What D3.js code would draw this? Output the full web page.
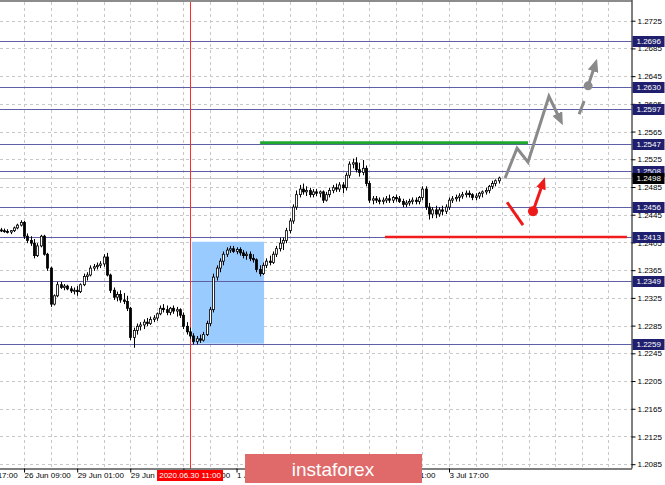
<!DOCTYPE html>
<html><head><meta charset="utf-8">
<script src="https://cdnjs.cloudflare.com/ajax/libs/d3/7.8.5/d3.min.js"></script>
<style>body{margin:0;background:#fff}svg{display:block}text{font-family:"Liberation Sans",Arial,sans-serif}</style>
</head><body><svg id="c" width="665" height="485"></svg>
<script>
// ---- DATA (EURUSD-like H1 candles, bar index 0..150) ----
const open=[1.2423,1.2422,1.2421,1.2420,1.2422,1.2426,1.2430,1.2434,1.2414,1.2408,1.2404,1.2386,1.2400,1.2414,1.2388,1.2368,1.2316,1.2328,1.2344,1.2340,1.2342,1.2338,1.2335,1.2336,1.2334,1.2344,1.2356,1.2358,1.2368,1.2370,1.2372,1.2374,1.2384,1.2358,1.2336,1.2326,1.2330,1.2322,1.2320,1.2310,1.2268,1.2278,1.2284,1.2286,1.2290,1.2288,1.2294,1.2296,1.2302,1.2310,1.2308,1.2304,1.2310,1.2306,1.2308,1.2300,1.2284,1.2276,1.2270,1.2262,1.2266,1.2264,1.2272,1.2288,1.2308,1.2355,1.2368,1.2378,1.2388,1.2394,1.2396,1.2392,1.2395,1.2390,1.2386,1.2388,1.2382,1.2380,1.2366,1.2360,1.2372,1.2378,1.2376,1.2388,1.2396,1.2404,1.2408,1.2422,1.2436,1.2456,1.2474,1.2482,1.2478,1.2480,1.2474,1.2478,1.2476,1.2478,1.2466,1.2474,1.2480,1.2484,1.2482,1.2488,1.2484,1.2502,1.2518,1.2520,1.2510,1.2506,1.2512,1.2490,1.2466,1.2468,1.2466,1.2464,1.2466,1.2468,1.2466,1.2470,1.2468,1.2464,1.2460,1.2462,1.2464,1.2466,1.2464,1.2470,1.2482,1.2456,1.2446,1.2452,1.2446,1.2452,1.2450,1.2456,1.2466,1.2468,1.2470,1.2472,1.2474,1.2476,1.2474,1.2470,1.2472,1.2476,1.2478,1.2480,1.2486,1.2490,1.2494];
const high=[1.2426,1.2425,1.2424,1.2423,1.2428,1.2432,1.2437,1.2436,1.2418,1.2414,1.2410,1.2404,1.2416,1.2416,1.2390,1.2370,1.2330,1.2348,1.2348,1.2345,1.2344,1.2342,1.2340,1.2342,1.2346,1.2360,1.2362,1.2372,1.2374,1.2376,1.2378,1.2388,1.2390,1.2360,1.2340,1.2334,1.2336,1.2332,1.2328,1.2312,1.2282,1.2288,1.2290,1.2294,1.2296,1.2298,1.2300,1.2304,1.2314,1.2316,1.2314,1.2312,1.2314,1.2312,1.2310,1.2304,1.2290,1.2282,1.2274,1.2270,1.2272,1.2276,1.2292,1.2312,1.2360,1.2372,1.2382,1.2392,1.2398,1.2400,1.2400,1.2398,1.2398,1.2394,1.2392,1.2392,1.2388,1.2382,1.2372,1.2376,1.2382,1.2386,1.2392,1.2400,1.2412,1.2412,1.2426,1.2440,1.2460,1.2480,1.2488,1.2490,1.2486,1.2484,1.2482,1.2482,1.2480,1.2480,1.2478,1.2484,1.2488,1.2490,1.2492,1.2492,1.2506,1.2522,1.2526,1.2528,1.2520,1.2524,1.2516,1.2494,1.2472,1.2472,1.2470,1.2470,1.2472,1.2474,1.2472,1.2474,1.2472,1.2468,1.2466,1.2468,1.2470,1.2470,1.2472,1.2486,1.2486,1.2462,1.2456,1.2458,1.2456,1.2458,1.2460,1.2470,1.2472,1.2474,1.2476,1.2478,1.2480,1.2480,1.2476,1.2476,1.2478,1.2480,1.2484,1.2488,1.2494,1.2496,1.2500];
const low=[1.2420,1.2419,1.2418,1.2417,1.2420,1.2424,1.2428,1.2410,1.2404,1.2400,1.2382,1.2384,1.2398,1.2386,1.2364,1.2312,1.2314,1.2326,1.2338,1.2336,1.2336,1.2332,1.2330,1.2328,1.2332,1.2342,1.2350,1.2356,1.2364,1.2366,1.2368,1.2370,1.2356,1.2332,1.2322,1.2320,1.2318,1.2316,1.2306,1.2264,1.2253,1.2272,1.2278,1.2280,1.2284,1.2286,1.2290,1.2292,1.2300,1.2304,1.2300,1.2300,1.2302,1.2298,1.2296,1.2280,1.2272,1.2266,1.2258,1.2258,1.2260,1.2262,1.2270,1.2284,1.2304,1.2350,1.2362,1.2372,1.2384,1.2390,1.2390,1.2388,1.2386,1.2382,1.2380,1.2378,1.2376,1.2362,1.2356,1.2358,1.2368,1.2372,1.2374,1.2384,1.2392,1.2394,1.2404,1.2418,1.2432,1.2452,1.2470,1.2474,1.2472,1.2470,1.2470,1.2472,1.2470,1.2462,1.2464,1.2470,1.2476,1.2478,1.2478,1.2476,1.2480,1.2498,1.2512,1.2506,1.2500,1.2502,1.2486,1.2462,1.2460,1.2462,1.2460,1.2460,1.2462,1.2462,1.2462,1.2464,1.2462,1.2456,1.2456,1.2458,1.2460,1.2460,1.2460,1.2466,1.2452,1.2438,1.2440,1.2440,1.2442,1.2444,1.2446,1.2452,1.2462,1.2464,1.2464,1.2468,1.2470,1.2470,1.2466,1.2466,1.2468,1.2470,1.2474,1.2476,1.2482,1.2486,1.2490];
const close=[1.2422,1.2421,1.2420,1.2422,1.2426,1.2430,1.2434,1.2414,1.2408,1.2404,1.2386,1.2400,1.2414,1.2388,1.2368,1.2316,1.2328,1.2344,1.2340,1.2342,1.2338,1.2335,1.2336,1.2334,1.2344,1.2356,1.2358,1.2368,1.2370,1.2372,1.2374,1.2384,1.2358,1.2336,1.2326,1.2330,1.2322,1.2320,1.2310,1.2268,1.2278,1.2284,1.2286,1.2290,1.2288,1.2294,1.2296,1.2302,1.2310,1.2308,1.2304,1.2310,1.2306,1.2308,1.2300,1.2284,1.2276,1.2270,1.2262,1.2266,1.2264,1.2272,1.2288,1.2308,1.2355,1.2368,1.2378,1.2388,1.2394,1.2396,1.2392,1.2395,1.2390,1.2386,1.2388,1.2382,1.2380,1.2366,1.2360,1.2372,1.2378,1.2376,1.2388,1.2396,1.2404,1.2408,1.2422,1.2436,1.2456,1.2474,1.2482,1.2478,1.2480,1.2474,1.2478,1.2476,1.2478,1.2466,1.2474,1.2480,1.2484,1.2482,1.2488,1.2484,1.2502,1.2518,1.2520,1.2510,1.2506,1.2512,1.2490,1.2466,1.2468,1.2466,1.2464,1.2466,1.2468,1.2466,1.2470,1.2468,1.2464,1.2460,1.2462,1.2464,1.2466,1.2464,1.2470,1.2482,1.2456,1.2446,1.2452,1.2446,1.2452,1.2450,1.2456,1.2466,1.2468,1.2470,1.2472,1.2474,1.2476,1.2474,1.2470,1.2472,1.2476,1.2478,1.2480,1.2486,1.2490,1.2494,1.2498];

const priceTicks=[1.2725,1.2685,1.2645,1.2605,1.2565,1.2525,1.2485,1.2445,1.2405,1.2365,1.2325,1.2285,1.2245,1.2205,1.2165,1.2125,1.2085];
const levels=[1.2696,1.2630,1.2597,1.2547,1.2508,1.2456,1.2413,1.2349,1.2259];
const bidPrice=1.2498;
const timeTickBars=[-9,7,23,39,55,71,87,103,119,135];
const timeTickLabels=["25 Jun 17:00","26 Jun 09:00","29 Jun 01:00","29 Jun 17:00","30 Jun 09:00","1 Jul 01:00","1 Jul 17:00","2 Jul 09:00","3 Jul 01:00","3 Jul 17:00"];
const gridBars=[7,15,23,31,39,47,55,63,71,79,87,95,103,111,119,127,135,143,151,159,167,175,183];
const markerBar=57, markerLabel="2020.06.30 11:00";
const zoneBars=[57.6,79.3], zonePrices=[1.2406,1.2259];
const greenBars=[78.1,158.8], greenPrice=1.2549;
const redBars=[115.7,188.6], redPrice=1.2413;
const grayPath=[[151.9,1.2498],[155.5,1.2541],[158.8,1.2521],[165.1,1.2616],[169.3,1.2574]];
const grayDash=[[174.2,1.2590],[175.7,1.2609]];
const grayArrow=[[176.9,1.2631],[179.6,1.2670]];
const redStroke=[[152.5,1.2463],[157.3,1.2430]];
const redArrow=[[160.3,1.2450],[163.9,1.2499]];

// ---- SCALES ----
const svg=d3.select("#c");
const R=631.5, B=468.5;
const x=d3.scaleLinear().domain([0,190]).range([0.8,631.6]);
const y=d3.scaleLinear().domain([1.2725,1.2085]).range([20.7,464.2]);

// grid
const g=svg.append("g");
g.selectAll(".hg").data(priceTicks).join("line")
 .attr("x1",0).attr("x2",R).attr("y1",d=>Math.round(y(d))+0.5).attr("y2",d=>Math.round(y(d))+0.5)
 .attr("stroke","#c8c8c8").attr("stroke-dasharray","3,3");
g.selectAll(".vg").data(gridBars).join("line")
 .attr("y1",2).attr("y2",B).attr("x1",d=>Math.round(x(d))+0.5).attr("x2",d=>Math.round(x(d))+0.5)
 .attr("stroke","#c8c8c8").attr("stroke-dasharray","3,3");

// zone rectangle
svg.append("rect").attr("x",x(zoneBars[0])).attr("width",x(zoneBars[1])-x(zoneBars[0]))
 .attr("y",y(zonePrices[0])).attr("height",y(zonePrices[1])-y(zonePrices[0])).attr("fill","#99cbff");

// level lines
svg.selectAll(".lv").data(levels).join("line")
 .attr("x1",0).attr("x2",R).attr("y1",d=>Math.round(y(d))+0.5).attr("y2",d=>Math.round(y(d))+0.5)
 .attr("stroke","#5f5fa8").attr("stroke-width",1.2);
svg.append("line").attr("x1",0).attr("x2",R).attr("y1",Math.round(y(bidPrice))+0.5).attr("y2",Math.round(y(bidPrice))+0.5)
 .attr("stroke","#c4c4c4");

// vertical marker
svg.append("line").attr("x1",Math.round(x(markerBar))+0.5).attr("x2",Math.round(x(markerBar))+0.5).attr("y1",2).attr("y2",B)
 .attr("stroke","#ff2a2a");

// green & red horizontal
svg.append("line").attr("x1",x(greenBars[0])).attr("x2",x(greenBars[1])).attr("y1",y(greenPrice)).attr("y2",y(greenPrice))
 .attr("stroke","#1fa82e").attr("stroke-width",3);
svg.append("line").attr("x1",x(redBars[0])).attr("x2",x(redBars[1])).attr("y1",y(redPrice)).attr("y2",y(redPrice))
 .attr("stroke","#f01c1c").attr("stroke-width",2.5);

// candles
const idx=d3.range(close.length);
const cg=svg.append("g");
cg.selectAll(".wk").data(idx).join("line")
 .attr("x1",i=>Math.round(x(i))+0.5).attr("x2",i=>Math.round(x(i))+0.5)
 .attr("y1",i=>y(high[i])).attr("y2",i=>y(low[i])).attr("stroke","#000");
cg.selectAll(".bd").data(idx).join("rect")
 .attr("x",i=>Math.round(x(i))-0.5).attr("width",2)
 .attr("y",i=>y(Math.max(open[i],close[i])))
 .attr("height",i=>Math.max(1,Math.abs(y(open[i])-y(close[i]))))
 .attr("fill",i=>close[i]>=open[i]?"#fff":"#000").attr("stroke","#000").attr("stroke-width",0.8);

// projections
const defs=svg.append("defs");
function mk(id,col,w,h){defs.append("marker").attr("id",id).attr("viewBox",`0 0 ${w} ${h}`)
 .attr("refX",w-5).attr("refY",h/2).attr("markerWidth",w).attr("markerHeight",h)
 .attr("markerUnits","userSpaceOnUse").attr("orient","auto")
 .append("path").attr("d",`M0,0L${w},${h/2}L0,${h}Z`).attr("fill",col);}
mk("ag","#8a8a8a",13,11); mk("ar","#ee1a1a",12,10);
function px(pts){
 const p=pts.map(d=>[x(d[0]),y(d[1])]);
 const a=p[p.length-2], b=p[p.length-1];
 const dx=b[0]-a[0], dy=b[1]-a[1], L=Math.hypot(dx,dy);
 p[p.length-1]=[b[0]-dx/L*5,b[1]-dy/L*5];
 return p;}
const ln=d3.line();
svg.append("path").attr("d",ln(px(grayPath))).attr("fill","none").attr("stroke","#8a8a8a").attr("stroke-width",3)
 .attr("stroke-linejoin","miter").attr("marker-end","url(#ag)");
svg.append("path").attr("d",ln(grayDash.map(d=>[x(d[0]),y(d[1])]))).attr("stroke","#8a8a8a").attr("stroke-width",3);
svg.append("path").attr("d",ln(px(grayArrow))).attr("stroke","#8a8a8a").attr("stroke-width",3).attr("marker-end","url(#ag)");
svg.append("circle").attr("cx",x(grayArrow[0][0])).attr("cy",y(grayArrow[0][1])).attr("r",4.5).attr("fill","#8a8a8a");
svg.append("path").attr("d",ln(redStroke.map(d=>[x(d[0]),y(d[1])]))).attr("stroke","#ee1a1a").attr("stroke-width",3);
svg.append("path").attr("d",ln(px(redArrow))).attr("stroke","#ee1a1a").attr("stroke-width",3).attr("marker-end","url(#ar)");
svg.append("circle").attr("cx",x(redArrow[0][0])).attr("cy",y(redArrow[0][1])).attr("r",5).attr("fill","#ee1a1a");

// frame top
svg.append("line").attr("x1",0).attr("x2",R).attr("y1",1).attr("y2",1).attr("stroke","#8c8c8c").attr("stroke-width",2);

// axes
const ya=d3.axisRight(y).tickValues(priceTicks).tickFormat(d3.format(".4f")).tickSize(4).tickPadding(2).tickSizeOuter(0);
const yg=svg.append("g").attr("transform",`translate(${R},0)`).call(ya);
yg.select(".domain").attr("stroke","#000").attr("d",`M0.5,0V${B}`);
yg.selectAll("text").attr("font-size","8px").attr("font-family","Liberation Sans, Arial").attr("fill","#000");
yg.selectAll("line").attr("stroke","#000");

const xa=d3.axisBottom(x).tickValues(timeTickBars).tickFormat((d,i)=>timeTickLabels[i]).tickSize(4).tickPadding(0).tickSizeOuter(0);
const xg=svg.append("g").attr("transform",`translate(0,${B})`).call(xa);
xg.select(".domain").attr("stroke","#000").attr("d",`M0,0.5H${R+0.5}`);
xg.selectAll("text").attr("font-size","8px").attr("font-family","Liberation Sans, Arial").attr("fill","#000")
 .attr("text-anchor","start").attr("x",0).attr("y",4);
xg.selectAll("line").attr("stroke","#000");

// level labels
const lb=svg.append("g");
levels.forEach(v=>{
 const yy=Math.round(y(v))+0.5;
 lb.append("rect").attr("x",R+1).attr("y",yy-5.5).attr("width",32).attr("height",11).attr("fill","#1f1f6e");
 lb.append("text").attr("x",R+5).attr("y",yy).attr("dy","0.35em").attr("font-size","8px").attr("fill","#fff").text(v.toFixed(4));
});
{const yy=Math.round(y(bidPrice))+0.5;
 lb.append("rect").attr("x",R+1).attr("y",yy-5.5).attr("width",32).attr("height",11).attr("fill","#000");
 lb.append("text").attr("x",R+5).attr("y",yy).attr("dy","0.35em").attr("font-size","8px").attr("fill","#fff").text(bidPrice.toFixed(4));}

// time marker label
{const cx=x(markerBar);
 svg.append("rect").attr("x",cx-33).attr("y",470).attr("width",66).attr("height",11).attr("fill","#ff0000");
 svg.append("text").attr("x",cx).attr("y",475.5).attr("dy","0.35em").attr("text-anchor","middle").attr("font-size","8px").attr("fill","#fff").text(markerLabel);}

// banner
svg.append("rect").attr("x",245).attr("y",454).attr("width",177).attr("height",29).attr("fill","#e06a6a");
svg.append("text").attr("x",333).attr("y",476).attr("text-anchor","middle").attr("font-family","Open Sans, sans-serif")
 .attr("font-size","19px").attr("fill","#fff").text("instaforex");
</script></body></html>
